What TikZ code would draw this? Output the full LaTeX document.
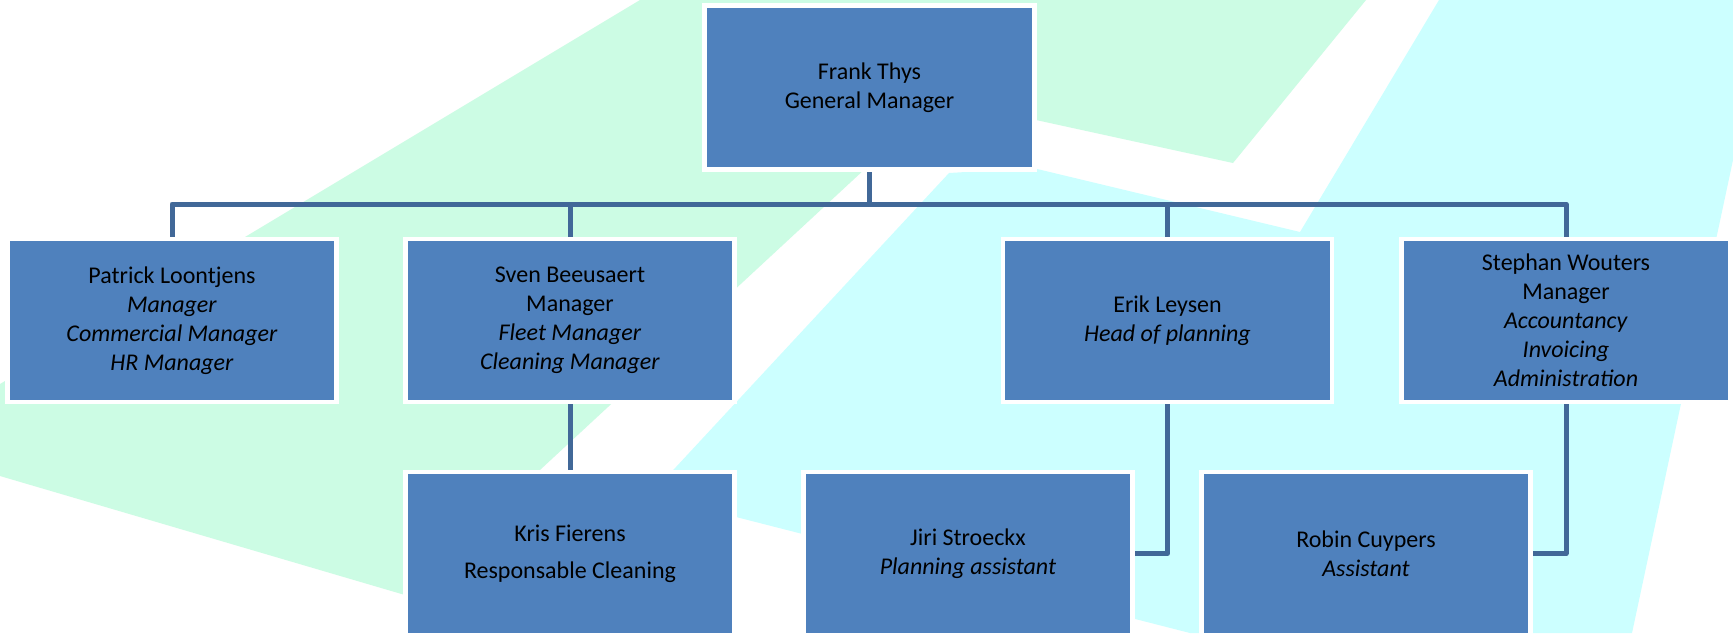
\documentclass[tikz,border=0pt]{standalone}
\usepackage{fontspec}
\setmainfont{Carlito}
\pgfdeclarelayer{bgshapes}
\pgfdeclarelayer{links}
\pgfsetlayers{bgshapes,links,main}
\definecolor{boxblue}{RGB}{79,129,189}
\definecolor{linkblue}{RGB}{65,104,152}
\definecolor{mint}{RGB}{204,252,228}
\definecolor{aqua}{RGB}{204,255,255}
\tikzset{
  orgbox/.style={rectangle, fill=boxblue, draw=white, line width=2.25pt,
    minimum width=164.5pt, minimum height=81.5pt, inner sep=2pt,
    align=center, font=\fontsize{12}{14.5}\selectfont, text=black},
  link/.style={draw=linkblue, line width=2.5pt, line join=round},
}
\begin{document}
\begin{tikzpicture}[x=0.5pt,y=-0.5pt]
\useasboundingbox (0,0) rectangle (1733,633);
\begin{pgfonlayer}{bgshapes}
\fill[white] (0,0) rectangle (1733,633);
\fill[mint] (0,384) -- (640,0) -- (1366,0) -- (1233,163) -- (1036,120) -- (866,168) -- (405,595) -- (0,476) -- cycle;
\fill[aqua] (1439,0) -- (1733,0) -- (1733,160) -- (1632,633) -- (1190,633) -- (650,495) -- (949,173) -- (1033,168) -- (1300,232) -- cycle;
\end{pgfonlayer}
\clip (0,0) rectangle (1733,633);
\node[orgbox, minimum width=165pt, minimum height=82pt] (frank) at (869.5,87.5) {Frank Thys\\General Manager};
\node[orgbox] (patrick) at (172,320.5) {Patrick Loontjens\\\textit{Manager}\\\textit{Commercial Manager}\\\textit{HR Manager}};
\node[orgbox] (sven) at (570,320.5) {Sven Beeusaert\\Manager\\\textit{Fleet Manager}\\\textit{Cleaning Manager}};
\node[orgbox] (erik) at (1167.5,320.5) {Erik Leysen\\\textit{Head of planning}};
\node[orgbox] (stephan) at (1566,320.5) {Stephan Wouters\\Manager\\\textit{Accountancy}\\\textit{Invoicing}\\\textit{Administration}};
\node[orgbox] (kris) at (570,553.5) {Kris Fierens\\[4pt]Responsable Cleaning};
\node[orgbox] (jiri) at (968,553.5) {Jiri Stroeckx\\\textit{Planning assistant}};
\node[orgbox] (robin) at (1366,553.5) {Robin Cuypers\\\textit{Assistant}};
\coordinate (bar) at (0,204);
\begin{pgfonlayer}{links}
\draw[link] (frank.south) -- (frank.south |- bar);
\draw[link] (patrick.north) |- (stephan.north |- bar) -- (stephan.north);
\draw[link] (sven.north) -- (sven.north |- bar);
\draw[link] (erik.north) -- (erik.north |- bar);
\draw[link] (sven.south) -- (kris.north);
\draw[link] (erik.south) |- (jiri.east);
\draw[link] (stephan.south) |- (robin.east);
\end{pgfonlayer}
\end{tikzpicture}
\end{document}
